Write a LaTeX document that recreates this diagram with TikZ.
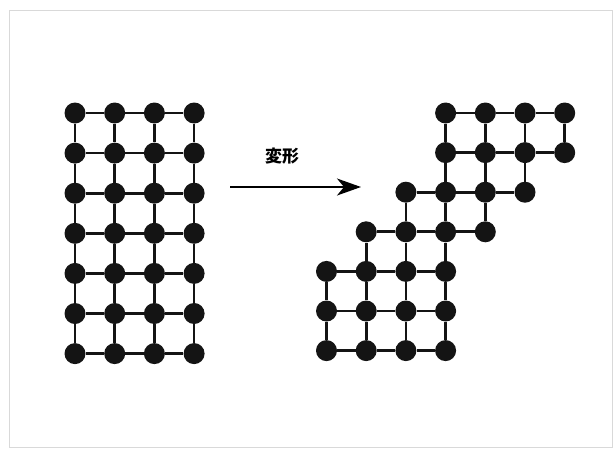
\documentclass[tikz,border=0pt]{standalone}
\usepackage{fontspec}
\newfontfamily\cjk{Noto Sans CJK JP}
\usetikzlibrary{arrows.meta}
\tikzset{
  dot/.style={circle,fill=black!92,minimum size=21pt,inner sep=0pt},
  bond/.style={line width=2.7pt,black!92},
  frame/.style={draw=black!15,line width=0.8pt},
  mainarrow/.style={line width=1.5pt,-{Stealth[length=24pt,width=17pt,inset=7pt]}},
  lbl/.style={font=\cjk\bfseries\fontsize{17pt}{17pt}\selectfont}
}
\begin{document}
\begin{tikzpicture}[x=1pt,y=-1pt]
\useasboundingbox (0,0) rectangle (613,448);
\draw[frame] (9,447) -- (9,10) -- (612,10) -- (612,447) -- cycle;
% left grid
\foreach \r in {0,...,6}{
  \foreach \c in {0,...,3}{
    \node[dot] (L-\r-\c) at ({75+39.7*\c},{113+40.1*\r}) {};
  }
}
\foreach \r in {0,...,6}{
  \foreach \c/\d in {0/1,1/2,2/3}{
    \draw[bond] (L-\r-\c) -- (L-\r-\d);
  }
}
\foreach \r/\s in {0/1,1/2,2/3,3/4,4/5,5/6}{
  \foreach \c in {0,...,3}{
    \draw[bond] (L-\r-\c) -- (L-\s-\c);
  }
}
% right shape
\foreach \r/\a in {0/3,1/3,2/2,3/1,4/0,5/0,6/0}{
  \foreach \k in {0,...,3}{
    \pgfmathtruncatemacro{\c}{\a+\k}
    \node[dot] (R-\r-\c) at ({326.5+39.7*\c},{113+39.6*\r}) {};
  }
}
\foreach \r/\a in {0/3,1/3,2/2,3/1,4/0,5/0,6/0}{
  \foreach \k in {0,1,2}{
    \pgfmathtruncatemacro{\c}{\a+\k}
    \pgfmathtruncatemacro{\d}{\a+\k+1}
    \draw[bond] (R-\r-\c) -- (R-\r-\d);
  }
}
\foreach \r/\s/\cs in {0/1/{3,4,5,6},1/2/{3,4,5},2/3/{2,3,4},3/4/{1,2,3},4/5/{0,1,2,3},5/6/{0,1,2,3}}{
  \foreach \c in \cs{
    \draw[bond] (R-\r-\c) -- (R-\s-\c);
  }
}
% arrow
\coordinate (A0) at (230,187);
\coordinate (A1) at (361,187);
\draw[mainarrow] (A0) -- (A1);
\node[lbl] (label) at (282,156) {変形};
\end{tikzpicture}
\end{document}
